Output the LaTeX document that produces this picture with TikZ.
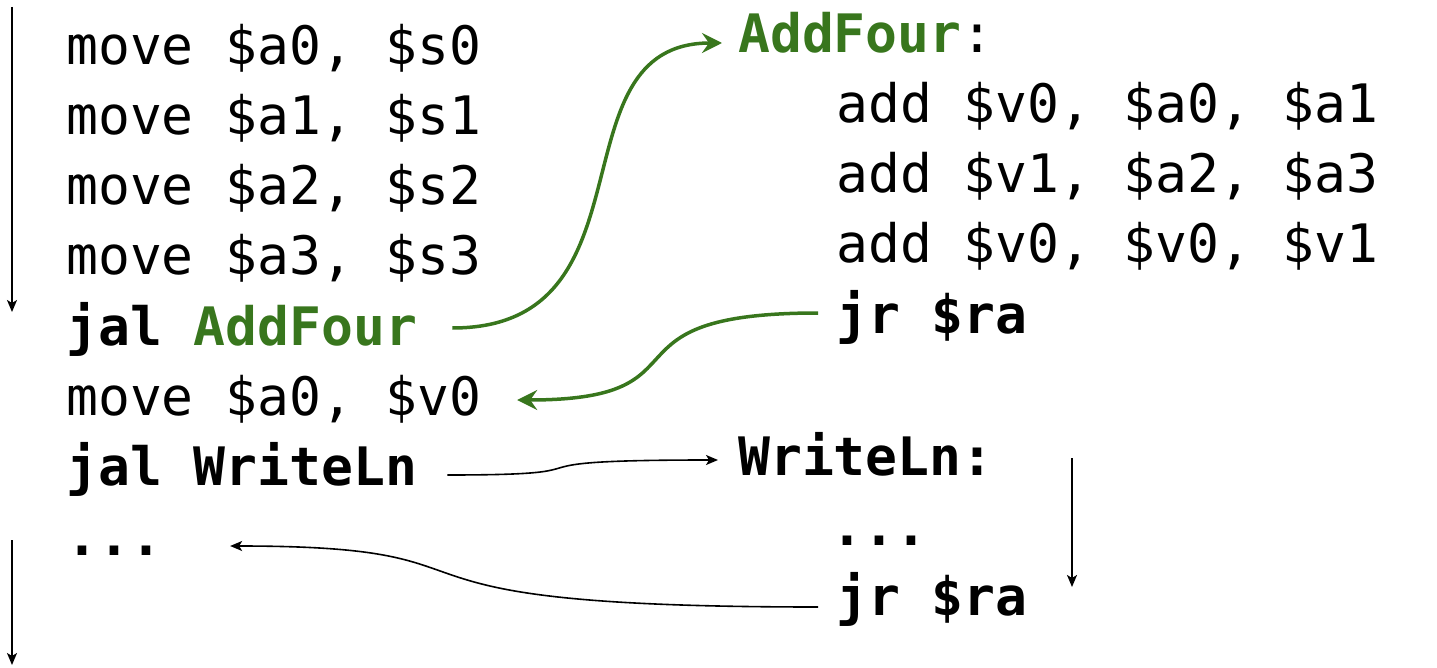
\documentclass[tikz,border=0pt]{standalone}
\usepackage{fontspec}
\setmonofont{DejaVu Sans Mono}
\usetikzlibrary{arrows.meta}
\definecolor{cgreen}{RGB}{56,118,29}
\begin{document}
\begin{tikzpicture}[x=1pt,y=-1pt,
  code/.style={anchor=base west, inner sep=0pt, font=\fontsize{53}{60}\selectfont\ttfamily},
  bcode/.style={anchor=base west, inner sep=0pt, font=\fontsize{53}{60}\selectfont\ttfamily\bfseries},
  call/.style={draw=cgreen, line width=3.5pt, -{Stealth[length=20pt,width=20pt,inset=7pt]}},
  flow/.style={draw=black, line width=1.6pt, -{Stealth[length=12pt,width=10pt,inset=3pt]}}]
\useasboundingbox (0,0) rectangle (1437,668);
% left column
\node[code]  (l1) at (66,65)  {move \$a0, \$s0};
\node[code]  (l2) at (66,135) {move \$a1, \$s1};
\node[code]  (l3) at (66,205) {move \$a2, \$s2};
\node[code]  (l4) at (66,275) {move \$a3, \$s3};
\node[bcode] (l5) at (66,345) {jal \textcolor{cgreen}{AddFour}};
\node[code]  (l6) at (66,415) {move \$a0, \$v0};
\node[bcode] (l7) at (66,485) {jal WriteLn};
\node[bcode] (l8) at (66,555) {...};
% right column
\node[code]  (r0) at (738,53)  {\textbf{\textcolor{cgreen}{AddFour}}:};
\node[code]  (r1) at (836,123) {add \$v0, \$a0, \$a1};
\node[code]  (r2) at (836,193) {add \$v1, \$a2, \$a3};
\node[code]  (r3) at (836,263) {add \$v0, \$v0, \$v1};
\node[bcode] (r4) at (836,333) {jr \$ra};
\node[bcode] (r5) at (738,475) {WriteLn:};
\node[bcode] (r6) at (831,545) {...};
\node[bcode] (r7) at (836,615) {jr \$ra};
% flow coordinates
\coordinate (f1a) at (12,7);
\coordinate (f1b) at (12,312);
\coordinate (f2a) at (12,540);
\coordinate (f2b) at (12,665);
\coordinate (f3a) at (1072,458);
\coordinate (f3b) at (1072,587);
% connectors
\draw[call] ([shift={(35,-17)}]l5.base east) .. controls +(207,0) and +(-172,0) .. ([shift={(-16,-10)}]r0.base west);
\draw[call] ([shift={(-18,-20)}]r4.base west) .. controls +(-228,0) and +(200,0) .. ([shift={(36,-15)}]l6.base east);
\draw[flow] ([shift={(30,-10)}]l7.base east) .. controls +(186,0) and +(-241,0) .. ([shift={(-20,-15)}]r5.base west);
\draw[flow] ([shift={(-18,-8)}]r7.base west) .. controls +(-491,0) and +(307,0) .. ([shift={(68,-9)}]l8.base east);
\draw[flow] (f1a) -- (f1b);
\draw[flow] (f2a) -- (f2b);
\draw[flow] (f3a) -- (f3b);
\end{tikzpicture}
\end{document}
